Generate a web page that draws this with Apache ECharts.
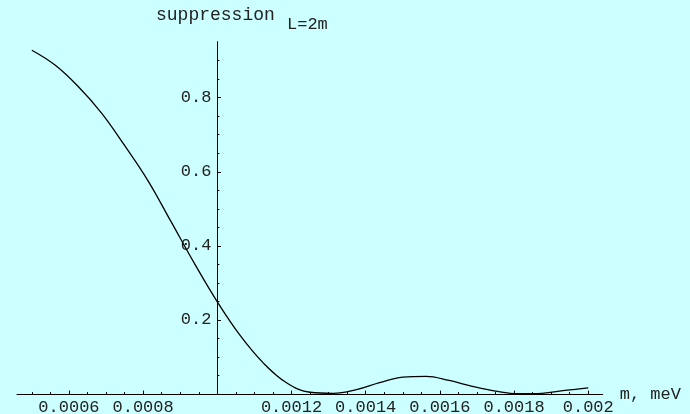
<!DOCTYPE html>
<html>
<head>
<meta charset="utf-8">
<script src="https://cdn.jsdelivr.net/npm/echarts@6/dist/echarts.min.js"></script>
<style>
html,body{margin:0;padding:0;background:#ccffff;}
#c{width:690px;height:414px;}
</style>
</head>
<body>
<div id="c"></div>
<script>
// m, meV
var mValues = [0.0005, 0.0005625, 0.000625, 0.0006875, 0.00075, 0.0008125, 0.000875, 0.0009375,
  0.001, 0.0010625, 0.001125, 0.0011875, 0.00125, 0.0013125, 0.001375, 0.0014375,
  0.0015, 0.0015625, 0.001625, 0.0016875, 0.00175, 0.0018125, 0.001875, 0.0019375, 0.002];
// suppression (L = 2 m)
var suppression = [0.928, 0.888, 0.830, 0.759, 0.671, 0.577, 0.466, 0.354,
  0.249, 0.157, 0.083, 0.030, 0.005, 0.002, 0.012, 0.031,
  0.046, 0.048, 0.037, 0.021, 0.008, 0.001, 0.002, 0.010, 0.017];
var xMajorTicks = [0.0006, 0.0008, 0.0012, 0.0014, 0.0016, 0.0018, 0.002];
var xLabels = ['0.0006', '0.0008', '0.0012', '0.0014', '0.0016', '0.0018', '0.002'];
var xMinorTicks = [0.0005, 0.00055, 0.00065, 0.0007, 0.00075, 0.00085, 0.0009, 0.00095,
  0.00105, 0.0011, 0.00115, 0.00125, 0.0013, 0.00135, 0.00145, 0.0015, 0.00155,
  0.00165, 0.0017, 0.00175, 0.00185, 0.0019, 0.00195];
var yMajorTicks = [0.2, 0.4, 0.6, 0.8];
var yLabels = ['0.2', '0.4', '0.6', '0.8'];
var yMinorTicks = [0.05, 0.1, 0.15, 0.25, 0.3, 0.35, 0.45, 0.5, 0.55, 0.65, 0.7, 0.75, 0.85, 0.9];

var font = '"Liberation Mono", "DejaVu Sans Mono", monospace';
var chart = echarts.init(document.getElementById('c'), null, {renderer: 'canvas'});
var xRange = [0.00046, 0.002039];
var yRange = [0, 0.951];
var yOffset = -200.4;
var labelMap = {};
xMajorTicks.forEach(function (v, i) { labelMap[v.toFixed(5)] = xLabels[i]; });
var yLabelMap = {};
yMajorTicks.forEach(function (v, i) { yLabelMap[v.toFixed(2)] = yLabels[i]; });

chart.setOption({
  backgroundColor: '#ccffff',
  animation: false,
  grid: {left: 17, right: 87.3, top: 41.7, bottom: 19.9, containLabel: false, outerBoundsMode: 'none'},
  xAxis: [{
    type: 'value', min: xRange[0], max: xRange[1], position: 'bottom',
    name: 'm, meV', nameLocation: 'end', nameGap: 17,
    nameTextStyle: {fontFamily: font, fontSize: 17, color: '#222'},
    axisLine: {show: true, onZero: false, lineStyle: {color: '#000', width: 1}},
    axisTick: {show: true, inside: true, length: 3.5, customValues: xMajorTicks, lineStyle: {color: '#000'}},
    axisLabel: {show: true, customValues: xMajorTicks, margin: 5, fontFamily: font, fontSize: 17, color: '#222',
      formatter: function (v) { return labelMap[v.toFixed(5)] || ''; }},
    splitLine: {show: false}
  }, {
    type: 'value', min: xRange[0], max: xRange[1], position: 'bottom',
    axisLine: {show: false, onZero: false},
    axisTick: {show: true, inside: true, length: 2, customValues: xMinorTicks, lineStyle: {color: '#000'}},
    axisLabel: {show: false},
    splitLine: {show: false}
  }],
  yAxis: [{
    type: 'value', min: yRange[0], max: yRange[1], position: 'left', offset: yOffset,
    axisLine: {show: true, onZero: false, lineStyle: {color: '#000', width: 1}},
    axisTick: {show: true, inside: true, length: 3.5, customValues: yMajorTicks, lineStyle: {color: '#000'}},
    axisLabel: {show: true, customValues: yMajorTicks, margin: 6, fontFamily: font, fontSize: 17, color: '#222',
      formatter: function (v) { return yLabelMap[v.toFixed(2)] || ''; }},
    splitLine: {show: false}
  }, {
    type: 'value', min: yRange[0], max: yRange[1], position: 'left', offset: yOffset,
    axisLine: {show: false, onZero: false},
    axisTick: {show: true, inside: true, length: 2, customValues: yMinorTicks, lineStyle: {color: '#000'}},
    axisLabel: {show: false},
    splitLine: {show: false}
  }],
  graphic: [
    {type: 'text', left: 156, top: 6, style: {text: 'suppression', font: '18px ' + font, fill: '#222'}},
    {type: 'text', left: 287, top: 16, style: {text: 'L=2m', font: '17px ' + font, fill: '#222'}}
  ],
  series: [{
    type: 'line', xAxisIndex: 0, yAxisIndex: 0,
    data: mValues.map(function (m, i) { return [m, suppression[i]]; }),
    showSymbol: false, smooth: 0.4,
    lineStyle: {color: '#000', width: 1.3}
  }]
});
</script>
</body>
</html>
